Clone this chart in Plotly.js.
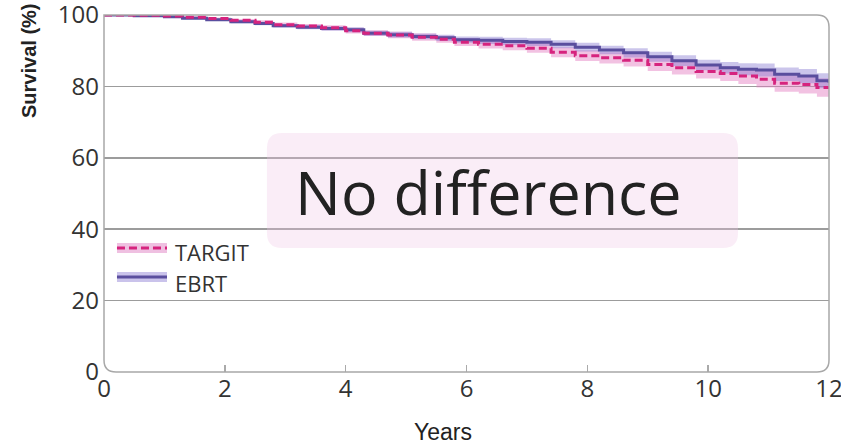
<!DOCTYPE html>
<html>
<head>
<meta charset="utf-8">
<script src="https://cdn.plot.ly/plotly-3.0.1.min.js"></script>
<style>html,body{margin:0;padding:0;background:#fff;}#chart{width:841px;height:445px;}</style>
</head>
<body>
<div id="chart"></div>
<script>
// ---- data ----
const years = [0, 0.5, 1.0, 1.3, 1.7, 2.1, 2.5, 2.8, 3.2, 3.6, 4.0, 4.3, 4.7, 5.1, 5.5, 5.8, 6.2, 6.6, 7.0, 7.4, 7.8, 8.2, 8.6, 9.0, 9.4, 9.8, 10.2, 10.5, 10.8, 11.1, 11.5, 11.8, 12.0];

const ebrt = [100, 99.8, 99.5, 99.1, 98.7, 98.1, 97.6, 97.0, 96.6, 96.2, 95.9, 94.9, 94.5, 94.0, 93.6, 93.1, 92.9, 92.6, 92.4, 91.8, 91.0, 90.2, 89.4, 88.3, 87.2, 86.0, 85.2, 84.8, 84.6, 83.4, 82.9, 81.6, 81.0];
const ebrtUpper = [100, 99.9, 99.7, 99.4, 99.0, 98.5, 98.1, 97.5, 97.2, 96.8, 96.6, 95.6, 95.3, 94.8, 94.5, 94.0, 93.9, 93.6, 93.5, 92.9, 92.2, 91.4, 90.7, 89.7, 88.7, 87.5, 86.8, 86.5, 86.4, 85.3, 84.9, 83.7, 83.2];
const ebrtLower = [100, 99.7, 99.3, 98.8, 98.4, 97.7, 97.1, 96.5, 96.0, 95.6, 95.2, 94.2, 93.7, 93.2, 92.7, 92.2, 91.9, 91.6, 91.3, 90.7, 89.8, 89.0, 88.1, 86.9, 85.7, 84.5, 83.6, 83.1, 82.8, 81.5, 80.9, 79.5, 78.8];

const targit = [100, 99.9, 99.7, 99.4, 99.0, 98.5, 98.0, 97.3, 96.9, 96.4, 95.6, 94.9, 94.4, 93.8, 93.2, 92.4, 91.8, 91.4, 90.7, 89.6, 88.6, 88.0, 87.3, 86.1, 85.2, 84.2, 83.6, 82.9, 82.0, 80.9, 80.5, 79.7, 79.5];
const targitUpper = [100, 100.0, 99.9, 99.7, 99.3, 98.9, 98.5, 97.9, 97.5, 97.1, 96.4, 95.7, 95.3, 94.8, 94.2, 93.5, 93.0, 92.7, 92.0, 91.0, 90.1, 89.6, 89.0, 87.9, 87.1, 86.2, 85.7, 85.1, 84.3, 83.3, 83.0, 82.3, 82.2];
const targitLower = [100, 99.8, 99.5, 99.1, 98.7, 98.1, 97.5, 96.7, 96.3, 95.7, 94.8, 94.1, 93.5, 92.8, 92.2, 91.3, 90.6, 90.1, 89.4, 88.2, 87.1, 86.4, 85.6, 84.3, 83.3, 82.2, 81.5, 80.7, 79.7, 78.5, 78.0, 77.1, 76.8];

const xTicks = [0, 2, 4, 6, 8, 10, 12];
const yTicks = [0, 20, 40, 60, 80, 100];
const seriesNames = ["TARGIT", "EBRT"];
const xTitle = "Years";
const yTitle = "Survival (%)";
const calloutText = "No difference";

// ---- styles ----
const pinkLine = "#d6237e";
const pinkBand = "rgba(226,120,190,0.45)";
const blueLine = "#5a4e9e";
const blueBand = "rgba(125,110,205,0.40)";

const traces = [
  {x: years, y: targitLower, mode: "lines", line: {width: 0, shape: "hv"}, hoverinfo: "skip", showlegend: false},
  {x: years, y: targitUpper, mode: "lines", line: {width: 0, shape: "hv"}, fill: "tonexty", fillcolor: pinkBand, hoverinfo: "skip", showlegend: false},
  {x: years, y: ebrtLower, mode: "lines", line: {width: 0, shape: "hv"}, hoverinfo: "skip", showlegend: false},
  {x: years, y: ebrtUpper, mode: "lines", line: {width: 0, shape: "hv"}, fill: "tonexty", fillcolor: blueBand, hoverinfo: "skip", showlegend: false},
  {x: years, y: ebrt, name: seriesNames[1], mode: "lines", line: {color: blueLine, width: 3, shape: "hv"}, showlegend: false},
  {x: years, y: targit, name: seriesNames[0], mode: "lines", line: {color: pinkLine, width: 3, shape: "hv", dash: "8px,4px"}, showlegend: false}
];

// rounded frame (paper coords)
const rx = 12 / 725, ry = 12 / 357;
const framePath = `M 0 1 L ${1 - rx} 1 Q 1 1 1 ${1 - ry} L 1 ${ry} Q 1 0 ${1 - rx} 0 L ${rx} 0 Q 0 0 0 ${ry} Z`;

const bx0 = 0.2248, bx1 = 0.8745, by0 = 0.3473, by1 = 0.6695, brx = 15 / 725, bry = 15 / 357;
const boxPath = `M ${bx0 + brx} ${by1} L ${bx1 - brx} ${by1} Q ${bx1} ${by1} ${bx1} ${by1 - bry} L ${bx1} ${by0 + bry} Q ${bx1} ${by0} ${bx1 - brx} ${by0} L ${bx0 + brx} ${by0} Q ${bx0} ${by0} ${bx0} ${by0 + bry} L ${bx0} ${by1 - bry} Q ${bx0} ${by1} ${bx0 + brx} ${by1} Z`;

const shapes = [
  {type: "path", xref: "paper", yref: "paper", path: framePath, line: {color: "#a8a8a8", width: 1.5}, layer: "above"},
  {type: "path", xref: "paper", yref: "paper", path: boxPath, fillcolor: "rgba(240,195,228,0.30)", line: {width: 0}, layer: "above"},
  // legend swatches
  {type: "rect", xref: "paper", yref: "paper", x0: 0.0179, x1: 0.0869, y0: 0.3333, y1: 0.3613, fillcolor: "rgba(226,140,200,0.55)", line: {width: 0}, layer: "above"},
  {type: "line", xref: "paper", yref: "paper", x0: 0.0179, x1: 0.0869, y0: 0.3473, y1: 0.3473, line: {color: pinkLine, width: 3, dash: "8px,4px"}, layer: "above"},
  {type: "rect", xref: "paper", yref: "paper", x0: 0.0179, x1: 0.0869, y0: 0.2521, y1: 0.2801, fillcolor: "rgba(150,135,215,0.50)", line: {width: 0}, layer: "above"},
  {type: "line", xref: "paper", yref: "paper", x0: 0.0179, x1: 0.0869, y0: 0.2661, y1: 0.2661, line: {color: blueLine, width: 3}, layer: "above"}
];

const annotations = [
  {xref: "paper", yref: "paper", x: 0.5297, y: 0.507, text: calloutText, showarrow: false, xanchor: "center", yanchor: "middle",
   font: {family: "Open Sans, sans-serif", size: 61, color: "#222"}},
  {xref: "paper", yref: "paper", x: 0.0945, y: 0.3375, text: seriesNames[0], showarrow: false, xanchor: "left", yanchor: "middle",
   font: {family: "Open Sans, sans-serif", size: 22, color: "#333"}},
  {xref: "paper", yref: "paper", x: 0.0945, y: 0.2507, text: seriesNames[1], showarrow: false, xanchor: "left", yanchor: "middle",
   font: {family: "Open Sans, sans-serif", size: 22, color: "#333"}},
  {xref: "paper", yref: "paper", x: (29 - 104) / 725, y: (372 - 61) / 357, text: "<b>" + yTitle + "</b>", showarrow: false, textangle: -90,
   xanchor: "center", yanchor: "middle", font: {family: "Liberation Sans, Arial, sans-serif", size: 20, color: "#222"}},
  {xref: "paper", yref: "paper", x: (443 - 104) / 725, y: (372 - 432) / 357, text: xTitle, showarrow: false,
   xanchor: "center", yanchor: "middle", font: {family: "Liberation Sans, Arial, sans-serif", size: 23, color: "#222"}}
];

const layout = {
  width: 841, height: 445,
  margin: {l: 104, r: 12, t: 15, b: 73},
  paper_bgcolor: "#fff", plot_bgcolor: "#fff",
  showlegend: false,
  xaxis: {
    range: [0, 12], tickvals: xTicks, ticktext: xTicks.map(String),
    showgrid: false, zeroline: false, showline: false,
    ticks: "inside", ticklen: 7, tickwidth: 1.5, tickcolor: "#aaa",
    ticklabeloverflow: "allow",
    tickfont: {family: "Open Sans, sans-serif", size: 24, color: "#333"},
    fixedrange: true
  },
  yaxis: {
    range: [0, 100], tickvals: yTicks, ticktext: yTicks.map(String),
    showgrid: true, gridcolor: "#9c9c9c", gridwidth: 1.5,
    zeroline: false, showline: false, ticks: "",
    ticklabelstandoff: 4,
    ticklabeloverflow: "allow",
    tickfont: {family: "Open Sans, sans-serif", size: 24, color: "#333"},
    fixedrange: true
  },
  shapes: shapes,
  annotations: annotations
};

Plotly.newPlot("chart", traces, layout, {displayModeBar: false, staticPlot: true});
</script>
</body>
</html>
